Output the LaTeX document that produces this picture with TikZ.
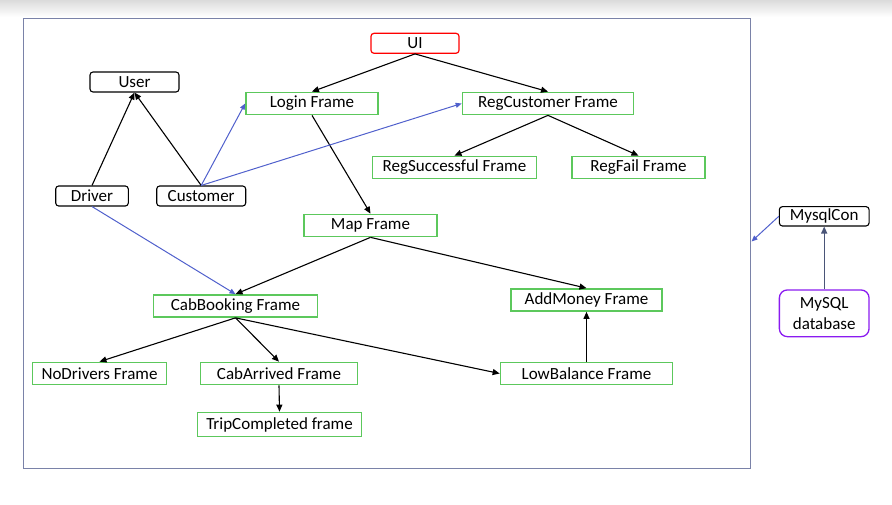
\documentclass[tikz,border=0pt]{standalone}
\usepackage{fontspec}
\setmainfont{Carlito}
\usetikzlibrary{arrows.meta}
\definecolor{gframe}{HTML}{5CC85C}
\definecolor{bluearr}{HTML}{5060CC}
\definecolor{outer}{HTML}{7A82A8}
\definecolor{dbline}{HTML}{4A5578}
\definecolor{purp}{HTML}{8A1BF0}
\begin{document}
\begin{tikzpicture}[x=1pt,y=-1pt,
  font=\fontsize{17}{20}\selectfont,
  box/.style={draw, rectangle, inner sep=0pt, minimum height=20pt},
  blackbox/.style={box, rounded corners=3pt, line width=1.1pt, draw=black},
  greenbox/.style={box, draw=gframe, line width=1.7pt, minimum height=22pt},
  arr/.style={-{Triangle[length=7pt,width=6pt]}, line width=1.1pt, black},
  barr/.style={-{Triangle[length=6pt,width=5pt]}, line width=1pt, bluearr}]
\useasboundingbox (0,0) rectangle (892,504);
\shade[top color=black!14, bottom color=white] (0,0) rectangle (892,17);
\node[draw=outer, line width=0.9pt, minimum width=727pt, minimum height=450pt, inner sep=0pt] (frame) at (386.5,243) {};
% nodes
\node[box, rounded corners=3pt, draw=red, line width=1.2pt, minimum width=88pt] (ui) at (415,43.3) {UI};
\node[blackbox, minimum width=89pt] (user) at (134.5,82) {User};
\node[greenbox, minimum width=132pt] (login) at (312,103.5) {Login Frame};
\node[greenbox, minimum width=171pt] (regc) at (548,103.5) {RegCustomer Frame};
\node[greenbox, minimum width=164pt] (regs) at (454.5,167.5) {RegSuccessful Frame};
\node[greenbox, minimum width=133pt] (regf) at (638.5,167.5) {RegFail Frame};
\node[blackbox, minimum width=72.6pt] (driver) at (92,196) {Driver};
\node[blackbox, minimum width=89pt] (cust) at (201.2,196) {Customer};
\node[greenbox, minimum width=133pt] (map) at (370.5,225.5) {Map Frame};
\node[greenbox, minimum width=164pt] (cab) at (235.5,306) {CabBooking Frame};
\node[greenbox, minimum width=134pt] (nod) at (99.5,373.5) {NoDrivers Frame};
\node[greenbox, minimum width=157pt] (arrv) at (279,373.5) {CabArrived Frame};
\node[greenbox, minimum width=164pt, minimum height=24pt] (trip) at (279.5,424.5) {TripCompleted frame};
\node[greenbox, minimum width=151pt] (addm) at (586.5,300) {AddMoney Frame};
\node[greenbox, minimum width=172pt] (lowb) at (586.5,373.5) {LowBalance Frame};
\node[blackbox, minimum width=89.7pt, minimum height=19.3pt] (mcon) at (824.2,216.3) {MysqlCon};
\node[box, draw=purp, rounded corners=8pt, line width=1.3pt, minimum width=89.7pt, minimum height=46.7pt, align=center, font=\fontsize{17}{21}\selectfont] (db) at (824.2,313.3) {MySQL\\database};
\coordinate (fin) at (751.5,241.5);
% connectors
\draw[arr] (ui.south) -- (login.north);
\draw[arr] (ui.south) -- (regc.north);
\draw[arr] (login.south) -- (map.north);
\draw[arr] (regc.south) -- (regs.north);
\draw[arr] (regc.south) -- (regf.north);
\draw[arr] (driver.north) -- (user.south);
\draw[arr] (cust.north) -- (user.south);
\draw[barr] (cust.north) -- (login.west);
\draw[barr] (cust.north) -- (regc.west);
\draw[barr] (driver.south) -- (cab.north);
\draw[arr] (map.south) -- (cab.north);
\draw[arr] (map.south) -- (addm.north);
\draw[arr] (cab.south) -- (nod.north);
\draw[arr] (cab.south) -- (arrv.north);
\draw[arr] (cab.south) -- (lowb.west);
\draw[arr] (arrv.south) -- (trip.north);
\draw[arr] (lowb.north) -- (addm.south);
\draw[-{Triangle[length=7pt,width=6pt]}, line width=1.3pt, dbline] (db.north) -- (mcon.south);
\draw[barr] (mcon.west) -- (fin);
\end{tikzpicture}
\end{document}
